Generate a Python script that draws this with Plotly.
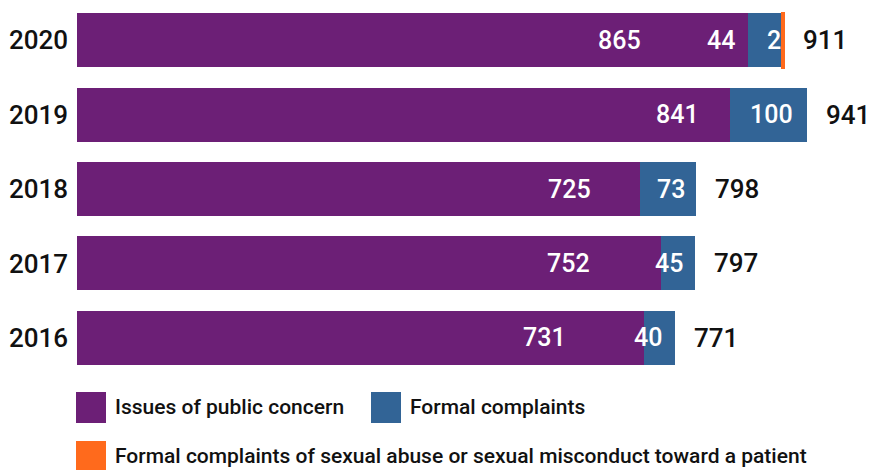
import plotly.graph_objects as go

# Yearly counts, newest first
years = ["2020", "2019", "2018", "2017", "2016"]
public_concern = [865, 841, 725, 752, 731]
formal_complaints = [44, 100, 73, 45, 40]
sexual_misconduct = [2, 0, 0, 0, 0]

series_names = [
    "Issues of public concern",
    "Formal complaints",
    "Formal complaints of sexual abuse or sexual misconduct toward a patient",
]
colors = ["#6c1f76", "#326496", "#ff6a1c"]

# label placement: pixel inset from the right end of each segment
public_pad = [105, 29, 47, 69, 76]
formal_pad = [45, 12, 9, 10, 11]
misconduct_pad = [1, 0, 0, 0, 0]

FONT = "Roboto"
W, H = 869, 470
M_L, M_R, M_T, M_B = 77, 16, 3, 95
PLOT_H = H - M_T - M_B

series_values = [public_concern, formal_complaints, sexual_misconduct]

fig = go.Figure()
for k, (name, vals, col) in enumerate(zip(series_names, series_values, colors)):
    # thin outline keeps the tiny misconduct segment visible (only where non-zero)
    outline = [3 if (k == 2 and v > 0) else 0 for v in vals]
    fig.add_trace(go.Bar(
        y=years, x=vals, name=name, orientation="h",
        marker=dict(color=col, line=dict(width=outline, color=col)),
        showlegend=False, hoverinfo="x+name",
    ))

white = dict(family=FONT, size=25, color="white", weight=500)
dark = dict(family=FONT, size=26, color="#111111", weight=500)

annotations = []
for i, yr in enumerate(years):
    p, f, s = public_concern[i], formal_complaints[i], sexual_misconduct[i]
    total = p + f + s
    # category axis: annotation y is the category index
    annotations.append(dict(x=p, y=i, text=str(p), xanchor="right", xshift=-public_pad[i],
                            showarrow=False, font=white))
    annotations.append(dict(x=p + f, y=i, text=str(f), xanchor="right", xshift=-formal_pad[i],
                            showarrow=False, font=white))
    if s:
        annotations.append(dict(x=total, y=i, text=str(s), xanchor="right", xshift=-misconduct_pad[i],
                                showarrow=False, font=white))
    annotations.append(dict(x=total, y=i, text=str(total), xanchor="left", xshift=17,
                            showarrow=False, font=dark))


def py(pixel_y):
    """Convert a page pixel row to paper y."""
    return (H - M_B - pixel_y) / PLOT_H


def px(pixel_x):
    return (pixel_x - M_L) / (W - M_L - M_R)


# legend drawn as swatches + labels
legend_items = [(76, 407, 0), (371, 407, 1), (76, 456, 2)]
shapes = []
for lx, ly, k in legend_items:
    shapes.append(dict(type="rect", xref="paper", yref="paper",
                       x0=px(lx), x1=px(lx + 30), y0=py(ly + 16), y1=py(ly - 15),
                       fillcolor=colors[k], line=dict(width=0)))
    annotations.append(dict(xref="paper", yref="paper", x=px(lx + 37), y=py(ly),
                            text=series_names[k], xanchor="left", yanchor="middle",
                            showarrow=False,
                            font=dict(family=FONT, size=21, color="#111111", weight=500)))

fig.update_layout(
    barmode="stack",
    bargap=0.275,
    width=W, height=H,
    margin=dict(l=M_L, r=M_R, t=M_T, b=M_B, pad=0),
    paper_bgcolor="white", plot_bgcolor="white",
    xaxis=dict(range=[0, 1000], visible=False, fixedrange=True),
    yaxis=dict(type="category", categoryorder="array", categoryarray=years,
               range=[len(years) - 0.5, -0.5], showgrid=False, zeroline=False,
               showline=False, ticks="", ticklabelstandoff=8, fixedrange=True,
               tickfont=dict(family=FONT, size=26, color="#111111", weight=500)),
    annotations=annotations,
    shapes=shapes,
    font=dict(family=FONT),
)

fig.write_html("out.html")
